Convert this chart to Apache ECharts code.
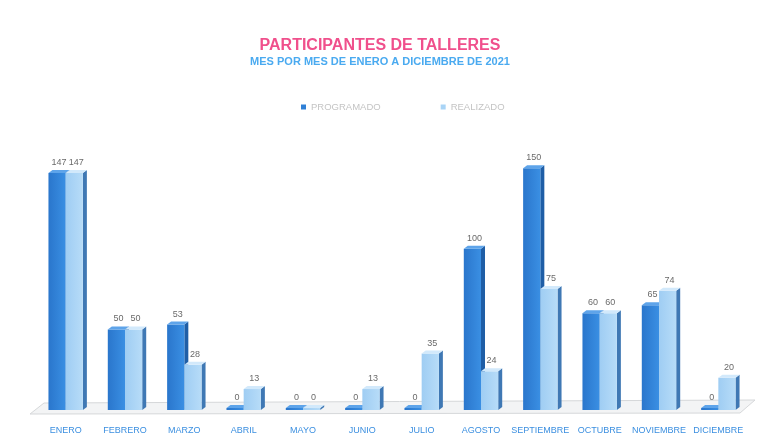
<!DOCTYPE html>
<html>
<head>
<meta charset="utf-8">
<script src="https://cdn.jsdelivr.net/npm/echarts@6/dist/echarts.min.js"></script>
<style>
  html, body { margin: 0; padding: 0; background: #ffffff; }
  #chart { width: 760px; height: 441px; }
</style>
</head>
<body>
<div id="chart"></div>
<script>
// Participantes de talleres, por mes (2021)
const meses = ['ENERO', 'FEBRERO', 'MARZO', 'ABRIL', 'MAYO', 'JUNIO', 'JULIO',
  'AGOSTO', 'SEPTIEMBRE', 'OCTUBRE', 'NOVIEMBRE', 'DICIEMBRE'];
const programado = [147, 50, 53, 0, 0, 0, 0, 100, 150, 60, 65, 0];
const realizado = [147, 50, 28, 13, 0, 13, 35, 24, 75, 60, 74, 20];

const chart = echarts.init(document.getElementById('chart'));

// Pseudo-3D bar: front face, right side face, top face and a value label
function bar3d(side, colors) {
  return function (params, api) {
    const idx = api.value(0);
    const v = api.value(1);
    const base = api.coord([idx, 0]);
    const top = api.coord([idx, v]);
    const band = api.size([1, 0])[0];
    const bw = band * 0.29;
    const dx = 4, dy = 3;
    const x0 = side === 'left' ? base[0] - bw : base[0];
    const x1 = x0 + bw;
    const yB = base[1];
    const yT = Math.min(top[1], yB - 2);
    return {
      type: 'group',
      children: [
        {
          type: 'polygon',
          shape: { points: [[x1, yT], [x1 + dx, yT - dy], [x1 + dx, yB - dy], [x1, yB]] },
          style: { fill: colors.side }
        },
        {
          type: 'rect',
          shape: { x: x0, y: yT, width: bw, height: yB - yT },
          style: {
            fill: new echarts.graphic.LinearGradient(0, 0, 1, 0, [
              { offset: 0, color: colors.frontA },
              { offset: 1, color: colors.frontB }
            ])
          }
        },
        {
          type: 'polygon',
          shape: { points: [[x0, yT], [x0 + dx, yT - dy], [x1 + dx, yT - dy], [x1, yT]] },
          style: { fill: colors.top }
        },
        {
          type: 'text',
          style: {
            text: String(v),
            x: (x0 + x1) / 2 + 2,
            y: yT - dy - 3,
            align: 'center',
            verticalAlign: 'bottom',
            fill: '#6a6a6a',
            font: '9px "Liberation Sans", sans-serif'
          }
        }
      ]
    };
  };
}

const progColors = { frontA: '#2a76cc', frontB: '#3a8fe3', side: '#1f5ea6', top: '#5ea4ea' };
const realColors = { frontA: '#9fcdf3', frontB: '#b7dcf8', side: '#3f78b4', top: '#d2e9fb' };

chart.setOption({
  animation: false,
  backgroundColor: '#ffffff',
  title: {
    text: 'PARTICIPANTES DE TALLERES',
    subtext: 'MES POR MES DE ENERO A DICIEMBRE DE 2021',
    left: 'center',
    top: 33,
    itemGap: 2,
    textStyle: { color: '#f0508c', fontSize: 16, fontWeight: 'bold', fontFamily: 'Liberation Sans' },
    subtextStyle: { color: '#4aaaf0', fontSize: 11, fontWeight: 'bold', fontFamily: 'Liberation Sans' }
  },
  legend: {
    top: 97,
    left: 296,
    itemWidth: 5,
    itemHeight: 5,
    itemGap: 60,
    icon: 'rect',
    textStyle: { color: '#c4c4c4', fontSize: 9.5, fontFamily: 'Liberation Sans' },
    data: ['PROGRAMADO', 'REALIZADO']
  },
  grid: { left: 36, right: 12, top: 152, bottom: 31 },
  xAxis: {
    type: 'category',
    data: meses,
    axisLine: { show: false },
    axisTick: { show: false },
    axisLabel: { color: '#3b8fe0', fontSize: 9, margin: 16, fontFamily: 'Liberation Sans', interval: 0 }
  },
  yAxis: {
    type: 'value',
    min: 0,
    max: 160,
    show: false,
    splitLine: { show: false }
  },
  graphic: [
    {
      type: 'polygon',
      z: 0,
      shape: { points: [[30, 414], [740, 413], [755, 400], [44, 403]] },
      style: { fill: '#f3f4f5', stroke: '#d6d8da', lineWidth: 1 }
    }
  ],
  series: [
    {
      name: 'PROGRAMADO',
      type: 'custom',
      clip: false,
      z: 2,
      itemStyle: { color: '#2f80d6' },
      encode: { x: 0, y: 1 },
      data: programado.map((v, i) => [i, v]),
      renderItem: bar3d('left', progColors)
    },
    {
      name: 'REALIZADO',
      type: 'custom',
      clip: false,
      z: 3,
      itemStyle: { color: '#a9d4f6' },
      encode: { x: 0, y: 1 },
      data: realizado.map((v, i) => [i, v]),
      renderItem: bar3d('right', realColors)
    }
  ]
});
</script>
</body>
</html>
